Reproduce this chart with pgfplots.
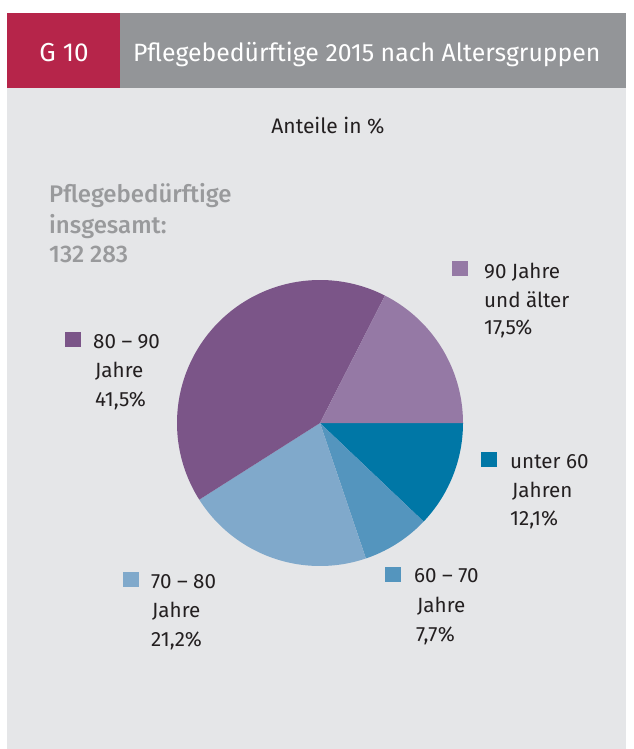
\documentclass[border=0pt]{standalone}
\usepackage{pgfplots}
\pgfplotsset{compat=1.18}
\usepackage{fontspec}
\setmainfont{Fira Sans}
\newfontfamily\firamed{Fira Sans}[UprightFont={* Medium}]
\usepackage{graphicx}
\definecolor{redbox}{RGB}{182,37,74}
\definecolor{greybar}{RGB}{147,149,152}
\definecolor{bgc}{RGB}{229,230,232}
\definecolor{totc}{RGB}{153,154,156}
\definecolor{txt}{RGB}{35,31,32}
\definecolor{cA}{RGB}{0,119,166}
\definecolor{cB}{RGB}{84,149,190}
\definecolor{cC}{RGB}{128,169,203}
\definecolor{cD}{RGB}{123,85,136}
\definecolor{cE}{RGB}{149,121,165}
\begin{document}
\begin{tikzpicture}
\begin{axis}[width=633pt,height=749pt,scale only axis,
  xmin=0,xmax=633,ymin=0,ymax=749,y dir=reverse,
  axis lines=none,clip=false]
\fill[white] (axis cs:0,0) rectangle (axis cs:633,749);
\fill[bgc] (axis cs:7,88) rectangle (axis cs:626,749);
\fill[redbox] (axis cs:7,13) rectangle (axis cs:120,88);
\fill[greybar] (axis cs:120,13) rectangle (axis cs:626,88);
\node[anchor=base,text=white,font=\fontsize{26}{30}\selectfont] at (axis cs:64,62) {G 10};
\node[anchor=base west,text=white,inner sep=0pt,font=\fontsize{25}{30}\selectfont] at (axis cs:133,62) {\scalebox{0.992}[1]{Pflegebedürftige 2015 nach Altersgruppen}};
\node[anchor=base,text=txt,font=\fontsize{21}{24}\selectfont] at (axis cs:328,134) {Anteile in \%};
% total
\node[anchor=base west,inner sep=0pt,text=totc,font=\fontsize{24}{28}\selectfont\firamed] at (axis cs:49,202) {Pflegebedürftige};
\node[anchor=base west,inner sep=0pt,text=totc,font=\fontsize{24}{28}\selectfont\firamed] at (axis cs:49,233) {insgesamt:};
\node[anchor=base west,inner sep=0pt,text=totc,font=\fontsize{24}{28}\selectfont\firamed] at (axis cs:49,262) {132 283};
% pie: shares in %, clockwise from 3 o'clock
\addplot[fill=cA,draw=none,domain=0:3.6*12.1,samples=60] ({320+143*cos(x)},{423+143*sin(x)}) -- (axis cs:320,423) -- cycle;
\addplot[fill=cB,draw=none,domain=3.6*12.1:3.6*(12.1+7.7),samples=60] ({320+143*cos(x)},{423+143*sin(x)}) -- (axis cs:320,423) -- cycle;
\addplot[fill=cC,draw=none,domain=3.6*(12.1+7.7):3.6*(12.1+7.7+21.2),samples=80] ({320+143*cos(x)},{423+143*sin(x)}) -- (axis cs:320,423) -- cycle;
\addplot[fill=cD,draw=none,domain=3.6*(12.1+7.7+21.2):3.6*(12.1+7.7+21.2+41.5),samples=120] ({320+143*cos(x)},{423+143*sin(x)}) -- (axis cs:320,423) -- cycle;
\addplot[fill=cE,draw=none,domain=3.6*(12.1+7.7+21.2+41.5):3.6*(12.1+7.7+21.2+41.5+17.5),samples=80] ({320+143*cos(x)},{423+143*sin(x)}) -- (axis cs:320,423) -- cycle;
% labels
\tikzset{lab/.style={anchor=base west,inner sep=0pt,text=txt,font=\fontsize{20.6}{24}\selectfont}}
\fill[cE] (axis cs:452,261) rectangle (axis cs:468,276);
\node[lab] at (axis cs:484,278) {90 Jahre};
\node[lab] at (axis cs:484,307) {und älter};
\node[lab] at (axis cs:484,334) {17,5\%};
\fill[cD] (axis cs:65,332) rectangle (axis cs:81,347);
\node[lab] at (axis cs:93,348) {80 – 90};
\node[lab] at (axis cs:95,377) {Jahre};
\node[lab] at (axis cs:95,406) {41,5\%};
\fill[cA] (axis cs:481,452) rectangle (axis cs:497,467);
\node[lab] at (axis cs:510,468) {unter 60};
\node[lab] at (axis cs:512,497) {Jahren};
\node[lab] at (axis cs:510,525) {12,1\%};
\fill[cC] (axis cs:123,572) rectangle (axis cs:139,587);
\node[lab] at (axis cs:151,588) {70 – 80};
\node[lab] at (axis cs:152,617) {Jahre};
\node[lab] at (axis cs:151,646) {21,2\%};
\fill[cB] (axis cs:385,567) rectangle (axis cs:401,582);
\node[lab] at (axis cs:414,582) {60 – 70};
\node[lab] at (axis cs:417,612) {Jahre};
\node[lab] at (axis cs:416,641) {7,7\%};
\end{axis}
\end{tikzpicture}
\end{document}
